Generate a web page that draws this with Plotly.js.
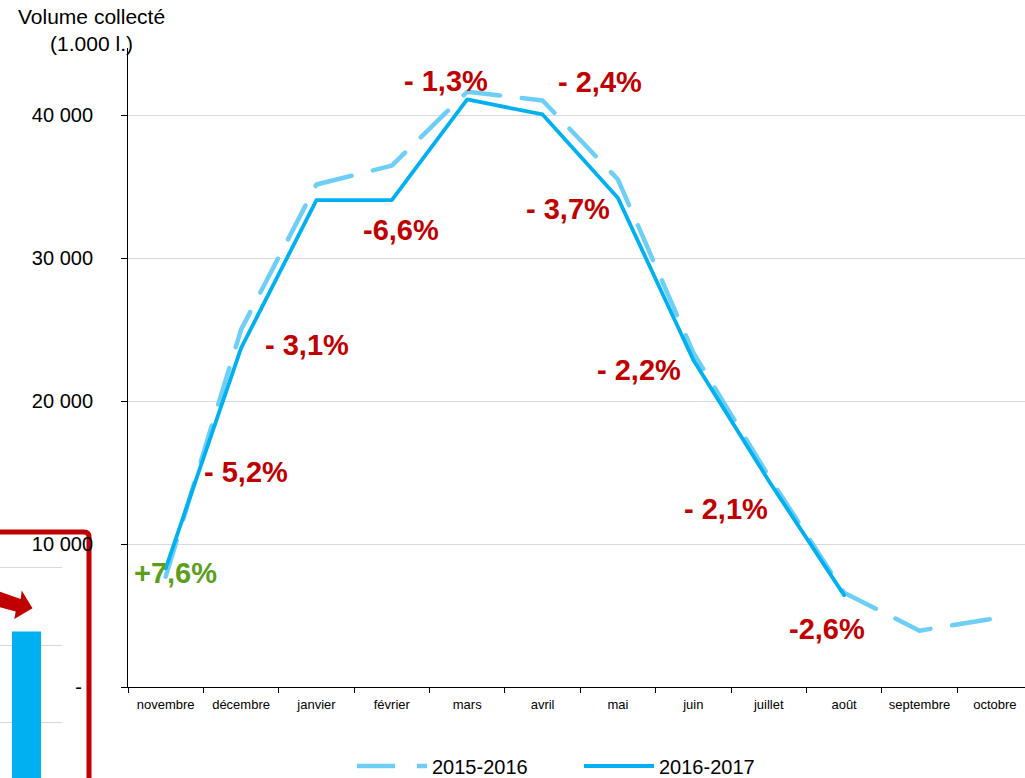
<!DOCTYPE html>
<html>
<head>
<meta charset="utf-8">
<script src="https://cdn.plot.ly/plotly-3.0.1.min.js"></script>
<style>
html,body{margin:0;padding:0;background:#fff;}
#chart{width:1025px;height:778px;}
.scatterlayer .js-line{stroke-linecap:round;stroke-linejoin:round;}
</style>
</head>
<body>
<div id="chart"></div>
<script>
// ---- data ----
const months = ['novembre','décembre','janvier','février','mars','avril','mai','juin','juillet','août','septembre','octobre'];
const vol2015_2016 = [7720, 25000, 35150, 36470, 41640, 41030, 35500, 23380, 14740, 6600, 3940, 4800];
const vol2016_2017 = [8300, 23700, 34060, 34060, 41100, 40050, 34200, 22870, 14430, 6430];
const seriesNames = ['2015-2016', '2016-2017'];
const yTickVals = [0, 10000, 20000, 30000, 40000];
const yTickText = ['-\u00a0\u00a0', '10 000', '20 000', '30 000', '40 000'];
const pctLabels = ['+7,6%', '- 5,2%', '- 3,1%', '-6,6%', '- 1,3%', '- 2,4%', '- 3,7%', '- 2,2%', '- 2,1%', '-2,6%'];
const insetCategories = ['2016-2017'];
const insetValues = [259];

// ---- layout helpers (pixel -> paper, margins are 0) ----
const W = 1025, H = 778;
const px = p => p / W;
const py = p => 1 - p / H;
const FONT = 'Liberation Sans, Arial, sans-serif';

const labelPos = [[175,573],[246,472],[306.5,345],[401,230],[445.5,81],[599.5,82],[567.5,209],[638.5,370],[725.5,509],[826.5,629]];
const labelColors = ['#5b9e1c','#c00000','#c00000','#c00000','#c00000','#c00000','#c00000','#c00000','#c00000','#c00000'];

const annotations = pctLabels.map((t, i) => ({
  text: '<b>' + t + '</b>', xref: 'paper', yref: 'paper',
  x: px(labelPos[i][0]), y: py(labelPos[i][1]), xanchor: 'center', yanchor: 'middle',
  showarrow: false, font: {family: FONT, size: 29, color: labelColors[i]}
}));
annotations.push({
  text: 'Volume collecté<br>(1.000 l.)', xref: 'paper', yref: 'paper',
  x: px(91), y: py(30), xanchor: 'center', yanchor: 'middle', showarrow: false,
  font: {family: FONT, size: 21, color: '#000'}
});

function pathFromPx(pts) {
  return 'M' + pts.map(p => px(p[0]).toFixed(5) + ',' + py(p[1]).toFixed(5)).join(' L') + ' Z';
}
const framePath = 'M' + px(-10) + ',' + py(532) + ' L' + px(84) + ',' + py(532) +
  ' Q' + px(89) + ',' + py(532) + ' ' + px(89) + ',' + py(537) + ' L' + px(89) + ',' + py(800);
const arrowPath = pathFromPx([[-5,590],[20.7,599],[21.7,590.5],[32.5,608.3],[14.3,619],[15.7,611.5],[-5,606]]);

const shapes = [
  {type: 'path', xref: 'paper', yref: 'paper', path: framePath, layer: 'below',
   line: {color: '#c00000', width: 5}},
  {type: 'path', xref: 'paper', yref: 'paper', path: arrowPath, layer: 'below',
   fillcolor: '#c00000', line: {width: 0}}
];

const traces = [
  {x: months, y: vol2015_2016, name: seriesNames[0], type: 'scatter', mode: 'lines',
   line: {color: '#6dcff6', width: 4.5, dash: '38px,22px'}, hoverinfo: 'x+y'},
  {x: months.slice(0, vol2016_2017.length), y: vol2016_2017, name: seriesNames[1], type: 'scatter', mode: 'lines',
   line: {color: '#00b0f0', width: 3.8}, hoverinfo: 'x+y'},
  {x: insetCategories, y: insetValues, type: 'bar', xaxis: 'x2', yaxis: 'y2',
   marker: {color: '#00b0f0'}, showlegend: false, hoverinfo: 'y'}
];

const layout = {
  width: W, height: H,
  margin: {l: 0, r: 0, t: 0, b: 0, autoexpand: false},
  paper_bgcolor: '#fff', plot_bgcolor: 'rgba(0,0,0,0)',
  font: {family: FONT, color: '#000'},
  showlegend: true,
  legend: {orientation: 'h', x: px(352), xanchor: 'left', y: py(766), yanchor: 'middle',
           font: {family: FONT, size: 20, color: '#000'}, itemwidth: 70,
           entrywidth: 142, entrywidthmode: 'pixels', bgcolor: 'rgba(0,0,0,0)'},
  bargap: 0.5,
  xaxis: {type: 'category', domain: [px(128), 1], range: [-0.5, 11.4], anchor: 'y',
          tickson: 'boundaries', ticks: 'outside', ticklen: 5, tickcolor: '#000', tickwidth: 1,
          showline: true, linecolor: '#000', linewidth: 1, showgrid: false, zeroline: false,
          ticklabelstandoff: 5,
          tickfont: {family: FONT, size: 13, color: '#000'}, fixedrange: true},
  yaxis: {domain: [py(687), py(48)], range: [0, 44700], anchor: 'x',
          tickmode: 'array', tickvals: yTickVals, ticktext: yTickText,
          ticks: 'outside', ticklen: 6, tickcolor: '#000', tickwidth: 1,
          showline: true, linecolor: '#000', linewidth: 1,
          showgrid: true, gridcolor: '#d9d9d9', gridwidth: 1, zeroline: false,
          ticklabelstandoff: 24,
          tickfont: {family: FONT, size: 20, color: '#000'}, fixedrange: true},
  xaxis2: {type: 'category', domain: [0, px(62)], range: [-26.5/58, 35.5/58], anchor: 'y2',
           showticklabels: false, ticks: '', showline: false, showgrid: false, zeroline: false, fixedrange: true},
  yaxis2: {domain: [0, py(534)], range: [164.5, 321.9], anchor: 'x2',
           tick0: 0, dtick: 50, showticklabels: false, ticks: '', showline: false,
           showgrid: true, gridcolor: '#d9d9d9', gridwidth: 1, zeroline: false, fixedrange: true},
  annotations: annotations,
  shapes: shapes
};

Plotly.newPlot('chart', traces, layout, {displayModeBar: false, responsive: false});
</script>
</body>
</html>
